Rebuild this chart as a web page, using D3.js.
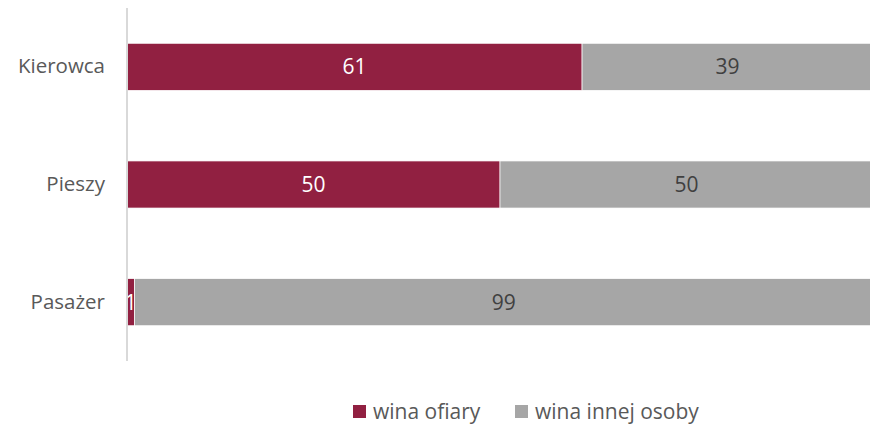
<!DOCTYPE html>
<html>
<head>
<meta charset="utf-8">
<script src="https://cdn.jsdelivr.net/npm/d3@7"></script>
<style>
  body { margin: 0; background: #fff; }
  text { font-family: "Open Sans", sans-serif; }
</style>
</head>
<body>
<div id="container"></div>
<script>
/* CONSTANTS AND GLOBALS */
const width = 870,
  height = 428,
  margin = { top: 8, right: -3, bottom: 67, left: 127 };

const categories = ["Kierowca", "Pieszy", "Pasażer"];
const winaOfiary = [61, 50, 1];
const winaInnej = [39, 50, 99];
const seriesNames = ["wina ofiary", "wina innej osoby"];
const colors = ["#912041", "#a6a6a6"];
const labelColors = ["#ffffff", "#404040"];

const rows = categories.map((c, i) => ({ cat: c, ofiary: winaOfiary[i], innej: winaInnej[i] }));
const stack = d3.stack().keys(["ofiary", "innej"])(rows);

const svg = d3.select("#container").append("svg")
  .attr("width", width)
  .attr("height", height);

const xScale = d3.scaleLinear()
  .domain([0, 100])
  .range([margin.left, width - margin.right]);

const yScale = d3.scaleBand()
  .domain(categories)
  .range([margin.top, height - margin.bottom])
  .paddingInner(0.6)
  .paddingOuter(0.3);

// bars
const layers = svg.selectAll(".layer")
  .data(stack)
  .join("g")
  .attr("class", "layer")
  .attr("fill", (d, i) => colors[i]);

layers.selectAll("rect")
  .data(d => d)
  .join("rect")
  .attr("x", d => xScale(d[0]))
  .attr("y", d => yScale(d.data.cat))
  .attr("width", d => xScale(d[1]) - xScale(d[0]))
  .attr("height", yScale.bandwidth())
  .attr("stroke", "#fff")
  .attr("stroke-width", 0.7);

// value labels
stack.forEach((layer, i) => {
  svg.selectAll(".lbl" + i)
    .data(layer)
    .join("text")
    .attr("class", "lbl" + i)
    .attr("x", d => (xScale(d[0]) + xScale(d[1])) / 2)
    .attr("y", d => yScale(d.data.cat) + yScale.bandwidth() / 2)
    .attr("dy", "0.35em")
    .attr("text-anchor", "middle")
    .attr("font-size", 21)
    .attr("fill", labelColors[i])
    .text(d => d[1] - d[0]);
});

// y axis
const yAxis = d3.axisLeft(yScale).tickSize(0).tickPadding(22);
const gy = svg.append("g")
  .attr("transform", `translate(${margin.left},0)`)
  .call(yAxis);
gy.select(".domain").attr("stroke", "#d9d9d9").attr("stroke-width", 2)
  .attr("d", `M0,${margin.top}V${height - margin.bottom}`);
gy.selectAll("text")
  .attr("font-size", 20.5)
  .attr("fill", "#595959")
  .style("font-family", "'Open Sans', sans-serif");

// legend
const legendX = [353, 515];
const legend = svg.append("g");
seriesNames.forEach((name, i) => {
  legend.append("rect")
    .attr("x", legendX[i])
    .attr("y", 405)
    .attr("width", 13)
    .attr("height", 13)
    .attr("fill", colors[i]);
  legend.append("text")
    .attr("x", legendX[i] + 20)
    .attr("y", 412)
    .attr("dy", "0.35em")
    .attr("font-size", 21)
    .attr("fill", "#595959")
    .text(name);
});
</script>
</body>
</html>
